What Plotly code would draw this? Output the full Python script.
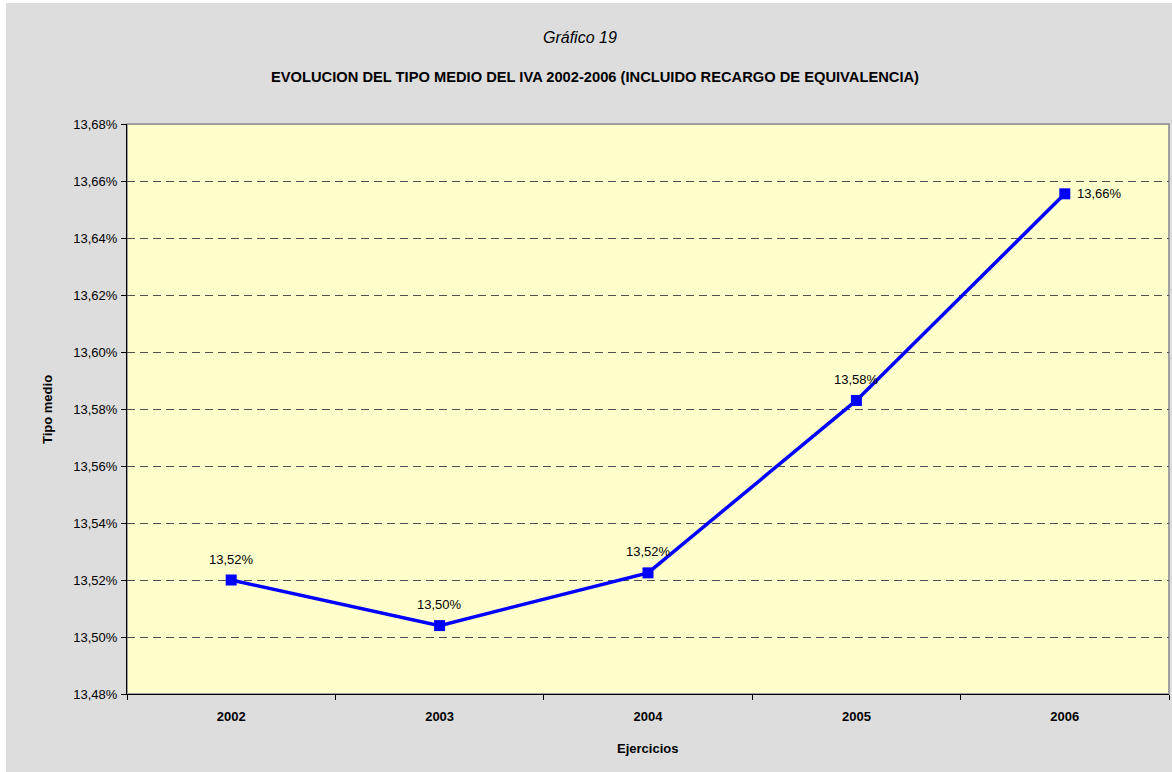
import plotly.graph_objects as go

years = ["2002", "2003", "2004", "2005", "2006"]
tipo_medio = [13.520, 13.504, 13.5225, 13.583, 13.6555]
labels = ["13,52%", "13,50%", "13,52%", "13,58%", "13,66%"]

W, H = 1172, 772
L, R, T, B = 127, 3, 124, 78
pw = W - L - R
ph = H - T - B
FONT = "Liberation Sans, Arial"

def px(x):
    return (x - L) / pw

def py(y):
    return 1 - (y - T) / ph

fig = go.Figure()
fig.add_trace(go.Scatter(
    x=years, y=tipo_medio, mode="lines+markers",
    line=dict(color="#0000ff", width=3.5),
    marker=dict(symbol="square", size=11, color="#0000ff"),
    cliponaxis=False, showlegend=False,
))

annotations = []
for i, (v, t) in enumerate(zip(tipo_medio, labels)):
    if i < len(years) - 1:
        annotations.append(dict(x=i, y=v, xref="x", yref="y", text=t, showarrow=False,
                                yshift=21, xanchor="center", yanchor="middle",
                                font=dict(size=13, family=FONT)))
    else:
        annotations.append(dict(x=i, y=v, xref="x", yref="y", text=t, showarrow=False,
                                xshift=10, xanchor="left", yanchor="middle",
                                font=dict(size=13, family=FONT)))

annotations += [
    dict(text="<i>Gráfico 19</i>", xref="paper", yref="paper", x=px(580), y=py(38),
         showarrow=False, font=dict(size=16), xanchor="center", yanchor="middle"),
    dict(text="<b>EVOLUCION DEL TIPO MEDIO DEL IVA 2002-2006 (INCLUIDO RECARGO DE EQUIVALENCIA)</b>",
         xref="paper", yref="paper", x=px(595), y=py(77), showarrow=False,
         font=dict(size=14.7), xanchor="center", yanchor="middle"),
    dict(text="<b>Tipo medio</b>", xref="paper", yref="paper", x=px(47), y=py(410),
         showarrow=False, textangle=-90, font=dict(size=13), xanchor="center", yanchor="middle"),
    dict(text="<b>Ejercicios</b>", xref="paper", yref="paper", x=px(647), y=py(748),
         showarrow=False, font=dict(size=13), xanchor="center", yanchor="middle"),
]

fig.update_layout(
    width=W, height=H,
    margin=dict(l=L, r=R, t=T, b=B),
    paper_bgcolor="#dddddd",
    plot_bgcolor="#ffffcc",
    separators=", ",
    font=dict(family=FONT, size=13, color="#000000"),
    xaxis=dict(
        type="category", range=[-0.5, 4.5], tickson="boundaries",
        ticks="outside", ticklen=5, tickcolor="#000000",
        showgrid=False, showline=True, linecolor="#000000", linewidth=1,
        tickfont=dict(size=13, family=FONT), ticklabelstandoff=10,
        tickprefix="<b>", ticksuffix="</b>", zeroline=False,
    ),
    yaxis=dict(
        range=[13.48, 13.68], dtick=0.02, tick0=13.48, tickformat=".2f", ticksuffix="%",
        ticks="outside", ticklen=5, tickcolor="#000000",
        showgrid=True, gridcolor="#505050", griddash="8px,5px", gridwidth=1,
        showline=True, linecolor="#000000", linewidth=1, zeroline=False,
        tickfont=dict(size=13), ticklabelstandoff=1,
    ),
    shapes=[
        dict(type="rect", xref="paper", yref="paper", x0=0, x1=1, y0=0, y1=1,
             line=dict(color="#a0a0a0", width=2), layer="below"),
        dict(type="rect", xref="paper", yref="paper", x0=px(0), x1=px(6), y0=py(H), y1=py(0),
             fillcolor="#ffffff", line=dict(width=0), layer="below"),
        dict(type="rect", xref="paper", yref="paper", x0=px(0), x1=px(W), y0=py(3), y1=py(0),
             fillcolor="#ffffff", line=dict(width=0), layer="below"),
    ],
    annotations=annotations,
)

fig.write_html("out.html", config={"displayModeBar": False},
               post_script="document.body.style.margin='0';document.body.style.overflow='hidden';")
